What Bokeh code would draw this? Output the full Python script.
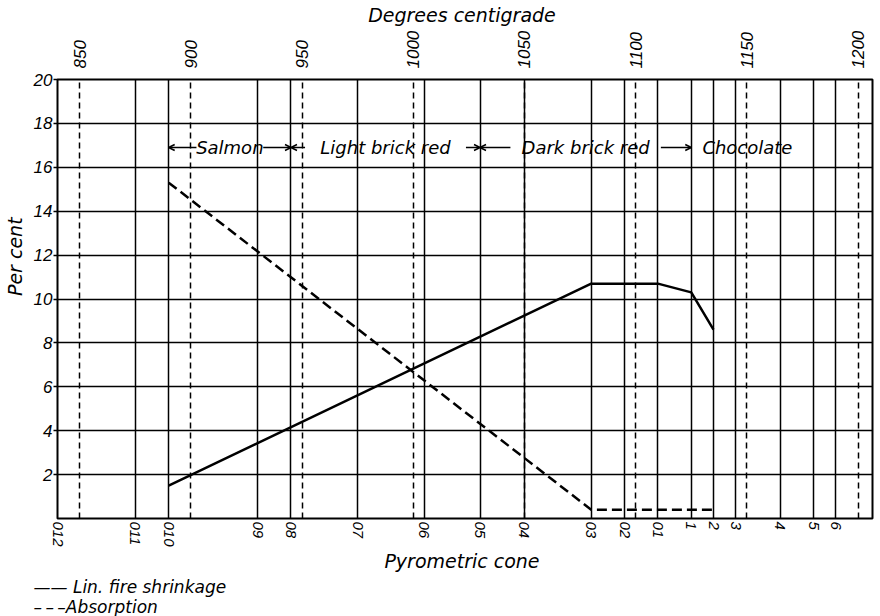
import math

from bokeh.core.properties import value
from bokeh.embed import file_html
from bokeh.models import (Arrow, FixedTicker, Grid, LinearAxis, OpenHead,
                          Range1d, Title)
from bokeh.plotting import figure
from bokeh.resources import INLINE

# Pyrometric cones and their end-point temperatures (deg C)
cones = ["012", "011", "010", "09", "08", "07", "06", "05", "04", "03",
         "02", "01", "1", "2", "3", "4", "5", "6"]
cone_temps = [840, 875, 890, 930, 945, 975, 1005, 1030, 1050, 1080,
              1095, 1110, 1125, 1135, 1145, 1165, 1180, 1190]

temp_ticks = [850, 900, 950, 1000, 1050, 1100, 1150, 1200]
pct_ticks = [2, 4, 6, 8, 10, 12, 14, 16, 18, 20]

# Test results by cone
shrink_cones = ["010", "03", "02", "01", "1", "2"]
shrink_pct = [1.5, 10.7, 10.7, 10.7, 10.3, 8.6]
absorb_cones = ["010", "03", "02", "01", "1", "2"]
absorb_pct = [15.3, 0.4, 0.4, 0.4, 0.4, 0.4]

# Burnt colour ranges (from cone, to cone)
colour_names = ["Salmon", "Light brick red", "Dark brick red", "Chocolate"]
colour_from = ["010", "08", "05", "1"]
colour_to = ["08", "05", "1", None]

# key lines under the chart
key_labels = ["\u2014\u2014\u00a0Lin. fire shrinkage",
              "\u2013\u2009\u2013\u2009\u2013Absorption"]

cone_t = dict(zip(cones, cone_temps))

TICK_FONT = "Liberation Sans"
TEXT_FONT = "DejaVu Sans"
PX_PER_DEG = 818 / 366.5
NBSP = "\u00a0"

p = figure(width=880, height=616, output_backend="svg", toolbar_location=None,
           x_range=Range1d(840, 1206.5), y_range=Range1d(0, 20),
           min_border_left=54, min_border_right=8, min_border_top=72,
           min_border_bottom=94)
p.background_fill_color = "white"
p.border_fill_color = "white"
p.outline_line_color = "black"
p.outline_line_width = 2
p.outline_line_alpha = 1

# solid grid: one line per cone, one per 2 per cent
p.xgrid.ticker = FixedTicker(ticks=cone_temps)
p.ygrid.ticker = FixedTicker(ticks=pct_ticks[:-1])
for g in (p.xgrid, p.ygrid):
    g.grid_line_color = "black"
    g.grid_line_alpha = 1
    g.grid_line_width = 1.5

# dashed grid: every 50 degrees
temp_grid = Grid(dimension=0, ticker=FixedTicker(ticks=temp_ticks),
                 grid_line_color="black", grid_line_width=1.5,
                 grid_line_dash="6 4")
p.add_layout(temp_grid)

# bottom axis: cone numbers
xa = p.xaxis[0]
xa.ticker = FixedTicker(ticks=cone_temps)
xa.major_label_overrides = {t: c for t, c in zip(cone_temps, cones)}
xa.major_label_orientation = -math.pi / 2
xa.axis_label = "Pyrometric  cone"
xa.major_label_standoff = 3
xa.axis_label_standoff = 0

# top axis: temperature
ta = LinearAxis(ticker=FixedTicker(ticks=temp_ticks),
                axis_label="Degrees  centigrade",
                major_label_orientation=math.pi / 2)
ta.major_label_standoff = 11
ta.axis_label_standoff = 2
p.add_layout(ta, "above")

# left axis: per cent (title sits a little above the middle)
ya = p.yaxis[0]
ya.ticker = FixedTicker(ticks=pct_ticks)
ya.major_tick_out = 4
ya.major_label_standoff = 1
ya.axis_label = NBSP * 15 + "Per  cent"
ya.axis_label_standoff = 5

for ax in (xa, ta, ya):
    ax.axis_line_color = None
    ax.major_tick_in = 0
    ax.minor_tick_line_color = None
    ax.major_tick_line_color = "black"
    ax.major_tick_line_width = 1.5
    ax.major_label_text_font = TICK_FONT
    ax.major_label_text_font_style = "italic"
    ax.major_label_text_font_size = "17px"
    ax.major_label_text_color = "black"
    ax.axis_label_text_font = TEXT_FONT
    ax.axis_label_text_font_style = "italic"
    ax.axis_label_text_font_size = "19px"
    ax.axis_label_text_color = "black"
xa.major_tick_out = 0
ta.major_tick_out = 0
xa.major_label_text_font_size = "15px"

# data lines
p.line([cone_t[c] for c in shrink_cones], shrink_pct,
       line_color="black", line_width=2.5)
p.line([cone_t[c] for c in absorb_cones], absorb_pct,
       line_color="black", line_width=2.5, line_dash="10 5")

# colour ranges with arrows
LABEL_Y = 16.9
CHAR_PX = 10.5
for name, c0, c1 in zip(colour_names, colour_from, colour_to):
    t0 = cone_t[c0]
    if c1 is None:
        p.text(x=[t0 + 5], y=[LABEL_Y], text=[name],
               text_font=value(TEXT_FONT), text_font_style=value("italic"),
               text_font_size=value("18px"), text_align="left",
               text_baseline="middle", text_color="black")
        continue
    t1 = cone_t[c1]
    mid = (t0 + t1) / 2
    half = len(name) * CHAR_PX / 2 / PX_PER_DEG
    gap = 2 / PX_PER_DEG
    p.text(x=[mid], y=[LABEL_Y], text=[name],
           text_font=value(TEXT_FONT), text_font_style=value("italic"),
           text_font_size=value("18px"), text_align="center",
           text_baseline="middle", text_color="black")
    for xs, xe in ((mid - half - gap, t0), (mid + half + gap, t1)):
        p.add_layout(Arrow(x_start=xs, y_start=LABEL_Y, x_end=xe, y_end=LABEL_Y,
                           line_width=1.5, line_color="black",
                           end=OpenHead(size=6, line_width=1.5,
                                        line_color="black")))

# key, below the cone axis
p.add_layout(Title(text="\n".join(key_labels), align="left", offset=-24,
                   standoff=0, text_line_height=1.0,
                   text_font=TEXT_FONT, text_font_style="italic",
                   text_font_size="17px", text_color="black"), "below")

open("out.html", "w").write(file_html(p, INLINE))
